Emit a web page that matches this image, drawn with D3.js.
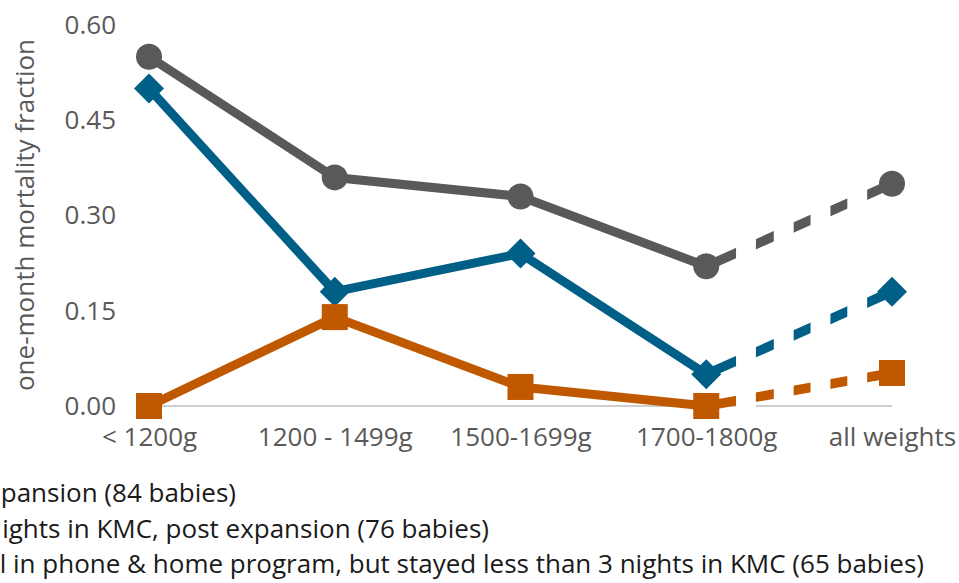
<!DOCTYPE html>
<html><head><meta charset="utf-8">
<script src="https://cdn.jsdelivr.net/npm/d3@7"></script>
<style>html,body{margin:0;padding:0;background:#fff;overflow:hidden}</style>
</head><body>
<svg id="c" width="959" height="583"></svg>
<script>
const categories = ["< 1200g", "1200 - 1499g", "1500-1699g", "1700-1800g", "all weights"];
const seriesGray   = [0.55, 0.36, 0.33, 0.22, 0.35];
const seriesBlue   = [0.50, 0.18, 0.24, 0.05, 0.18];
const seriesOrange = [0.00, 0.14, 0.03, 0.00, 0.052];
const yTicks = [0, 0.15, 0.30, 0.45, 0.60];
const yTitle = "one-month mortality fraction";
const legendLabels = [
  "pansion (84 babies)",
  "ights in KMC, post expansion (76 babies)",
  "l in phone & home program, but stayed less than 3 nights in KMC (65 babies)"
];

const series = [
  {values: seriesGray, color: "#595959", shape: "circle"},
  {values: seriesBlue, color: "#005F86", shape: "diamond"},
  {values: seriesOrange, color: "#C05800", shape: "square"}
];

const font = "'Open Sans', sans-serif";
const fs = 26;
const svg = d3.select("#c");
const x = d3.scalePoint().domain(categories).range([149, 892]);
const y = d3.scaleLinear().domain([0, 0.6]).range([406, 25]);

// y tick labels
const yAxis = d3.axisLeft(y).tickValues(yTicks).tickFormat(d3.format(".2f")).tickSize(0).tickPadding(0);
const ga = svg.append("g").attr("transform", "translate(116,0)").call(yAxis);
ga.select(".domain").remove();
ga.selectAll("text").attr("font-family", font).attr("font-size", fs).attr("fill", "#595959");

// x labels
const xAxis = d3.axisBottom(x).tickSize(0).tickPadding(0);
const gx = svg.append("g").attr("transform", "translate(0,428)").call(xAxis);
gx.select(".domain").remove();
gx.selectAll("text").attr("font-family", font).attr("font-size", fs).attr("fill", "#595959").attr("dy", "0.71em");

// dash intervals (fractions of the last category step) — vertical cuts
const step = x.step();
const cLast = categories[categories.length - 1];
const cPrev = categories[categories.length - 2];
const dashStops = [[0, 30], [50, 68], [88, 105], [125, 142], [162, 190]].map(([a, b]) => [a / 187, b / 187]);

const defs = svg.append("defs");
const clip = defs.append("clipPath").attr("id", "dashclip");
dashStops.forEach(([a, b]) => {
  clip.append("rect").attr("x", x(cPrev) + a * step - (a === 0 ? 20 : 0)).attr("y", 0)
    .attr("width", (b - a) * step + (a === 0 ? 20 : 0) + (b > 1 ? 20 : 0)).attr("height", 583);
});

// baseline with gap
const gapStart = x(cPrev) + dashStops[0][1] * step;
const gapEnd = x(cPrev) + dashStops[1][0] * step;
[[x(categories[0]), gapStart], [gapEnd, x(cLast)]].forEach(([a, b]) => {
  svg.append("line").attr("x1", a).attr("x2", b).attr("y1", y(0)).attr("y2", y(0))
    .attr("stroke", "#BFBFBF").attr("stroke-width", 1.5);
});

// y title
svg.append("text").attr("transform", `translate(34,215) rotate(-90)`)
  .attr("text-anchor", "middle").attr("font-family", font).attr("font-size", fs)
  .attr("fill", "#595959").text(yTitle);

series.forEach(s => {
  const n = s.values.length;
  svg.append("path").datum(s.values.slice(0, n - 1))
    .attr("d", d3.line().x((d, i) => x(categories[i])).y(d => y(d)))
    .attr("fill", "none").attr("stroke", s.color).attr("stroke-width", 9).attr("stroke-linejoin", "round");
  svg.append("path").datum(s.values.slice(n - 2))
    .attr("d", d3.line().x((d, i) => x(categories[n - 2 + i])).y(d => y(d)))
    .attr("fill", "none").attr("stroke", s.color).attr("stroke-width", 9.5)
    .attr("clip-path", "url(#dashclip)");
  s.values.forEach((v, i) => {
    const cx = x(categories[i]), cy = y(v);
    if (s.shape === "circle") {
      svg.append("circle").attr("cx", cx).attr("cy", cy).attr("r", 13).attr("fill", s.color);
    } else if (s.shape === "square") {
      svg.append("rect").attr("x", cx - 13).attr("y", cy - 13).attr("width", 26).attr("height", 26).attr("fill", s.color);
    } else {
      svg.append("path").attr("d", `M${cx},${cy-15}L${cx+15},${cy}L${cx},${cy+15}L${cx-15},${cy}Z`).attr("fill", s.color);
    }
  });
});

const legEnd = [236, 489, 924];
const legY = [502, 538, 573];
legendLabels.forEach((t, i) => {
  svg.append("text").attr("x", legEnd[i]).attr("y", legY[i]).attr("text-anchor", "end")
    .attr("font-family", font).attr("font-size", fs).attr("fill", "#1a1a1a").text(t);
});
</script>
</body></html>
